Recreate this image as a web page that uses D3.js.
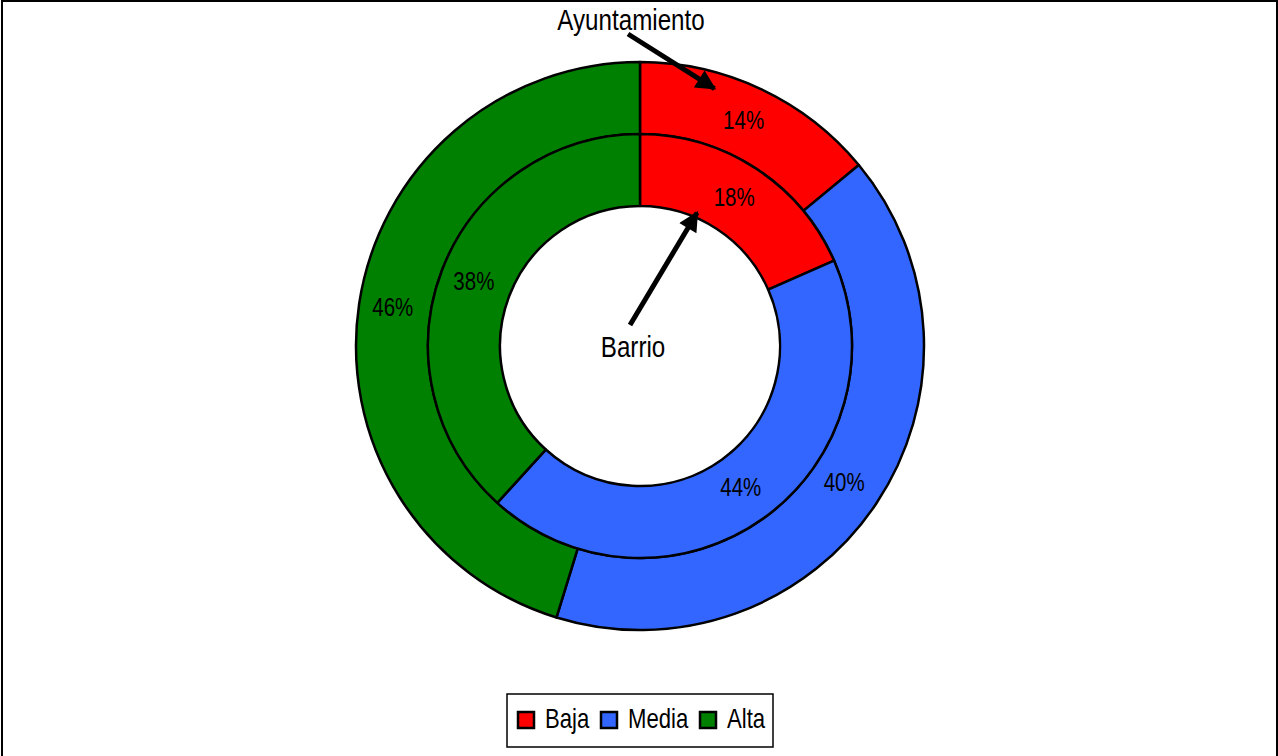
<!DOCTYPE html>
<html>
<head>
<meta charset="utf-8">
<script src="https://cdn.jsdelivr.net/npm/d3@7"></script>
<style>
  body { margin: 0; background: #fff; }
  text { font-family: "Liberation Sans", Arial, sans-serif; }
</style>
</head>
<body>
<div id="chart"></div>
<script>
// Data (slice sizes as drawn, labels as printed on the chart)
const categories = ["Baja", "Media", "Alta"];
const ayuntamientoValues = [14, 40.75, 45.25]; // outer ring
const ayuntamientoLabels = ["14%", "40%", "46%"];
const barrioValues = [18.4, 43.35, 38.25]; // inner ring
const barrioLabels = ["18%", "44%", "38%"];
const colours = ["#ff0000", "#3366ff", "#008000"];

const width = 1278;
const height = 756;
const cx = 640;
const cy = 346;

// Ring radii
const outerR = 284;
const midR = 212;
const innerR = 140;

// Narrow look: Liberation Sans squeezed horizontally
const narrow = 0.82;

const svg = d3
  .select("#chart")
  .append("svg")
  .attr("width", width)
  .attr("height", height);

// Outer frame (bottom edge falls off the page)
svg
  .append("rect")
  .attr("x", 2)
  .attr("y", 1)
  .attr("width", width - 3)
  .attr("height", height + 10)
  .attr("fill", "none")
  .attr("stroke", "#000")
  .attr("stroke-width", 2);

const colour = d3.scaleOrdinal().domain(categories).range(colours);
const pie = d3.pie().sort(null).value((d) => d.value);

const g = svg.append("g").attr("transform", `translate(${cx},${cy})`);

const drawRing = (values, labels, r0, r1) => {
  const data = pie(
    categories.map((c, i) => ({ name: c, value: values[i], label: labels[i] }))
  );
  const arc = d3.arc().innerRadius(r0).outerRadius(r1);
  g.append("g")
    .selectAll("path")
    .data(data)
    .join("path")
    .attr("d", arc)
    .attr("fill", (d) => colour(d.data.name))
    .attr("stroke", "#000")
    .attr("stroke-width", 2.5)
    .attr("stroke-linejoin", "round");
  return { data, arc };
};

const outer = drawRing(ayuntamientoValues, ayuntamientoLabels, midR, outerR);
const inner = drawRing(barrioValues, barrioLabels, innerR, midR);

// Percentage labels on top of both rings
[outer, inner].forEach(({ data, arc }) => {
  g.append("g")
    .selectAll("text")
    .data(data)
    .join("text")
    .attr("transform", (d) => {
      const [x, y] = arc.centroid(d);
      return `translate(${x - 2},${y - 2}) scale(${narrow},1)`;
    })
    .attr("text-anchor", "middle")
    .attr("dy", "0.36em")
    .attr("font-size", 25)
    .attr("fill", "#000")
    .text((d) => d.data.label);
});

// Arrow annotations
svg
  .append("defs")
  .append("marker")
  .attr("id", "arrow")
  .attr("viewBox", "0 0 10 10")
  .attr("refX", 9)
  .attr("refY", 5)
  .attr("markerWidth", 4.6)
  .attr("markerHeight", 4)
  .attr("orient", "auto")
  .append("path")
  .attr("d", "M0,0 L10,5 L0,10 Z")
  .attr("fill", "#000");

const polar = (angle, r) => [cx + r * Math.sin(angle), cy - r * Math.cos(angle)];

const drawArrow = (from, to) =>
  svg
    .append("line")
    .attr("x1", from[0])
    .attr("y1", from[1])
    .attr("x2", to[0])
    .attr("y2", to[1])
    .attr("stroke", "#000")
    .attr("stroke-width", 5)
    .attr("marker-end", "url(#arrow)");

const drawLabel = (x, y, size, txt) =>
  svg
    .append("text")
    .attr("transform", `translate(${x},${y}) scale(${narrow},1)`)
    .attr("text-anchor", "middle")
    .attr("font-size", size)
    .text(txt);

// Ayuntamiento arrow points into the outer ring's Baja slice
const baOuter = outer.data[0];
drawArrow([628, 34], polar(baOuter.startAngle + 0.32 * (baOuter.endAngle - baOuter.startAngle), outerR - 16));
drawLabel(631, 30, 29.5, "Ayuntamiento");

// Barrio arrow points into the inner ring's Baja slice
const baInner = inner.data[0];
drawArrow([630, 325], polar(baInner.startAngle + 0.35 * (baInner.endAngle - baInner.startAngle), innerR + 5));
drawLabel(633, 357, 29.5, "Barrio");

// Legend
const legend = svg.append("g").attr("transform", "translate(507,694)");
legend
  .append("rect")
  .attr("width", 266)
  .attr("height", 53)
  .attr("fill", "#fff")
  .attr("stroke", "#000")
  .attr("stroke-width", 1.5);

const legendX = [11, 94, 193];
const items = legend
  .selectAll("g.item")
  .data(categories)
  .join("g")
  .attr("class", "item")
  .attr("transform", (d, i) => `translate(${legendX[i]},18)`);
items
  .append("rect")
  .attr("width", 16)
  .attr("height", 16)
  .attr("fill", (d) => colour(d))
  .attr("stroke", "#000")
  .attr("stroke-width", 2.5);
items
  .append("text")
  .attr("transform", `translate(27,16) scale(${narrow},1)`)
  .attr("font-size", 27)
  .text((d) => d);
</script>
</body>
</html>
